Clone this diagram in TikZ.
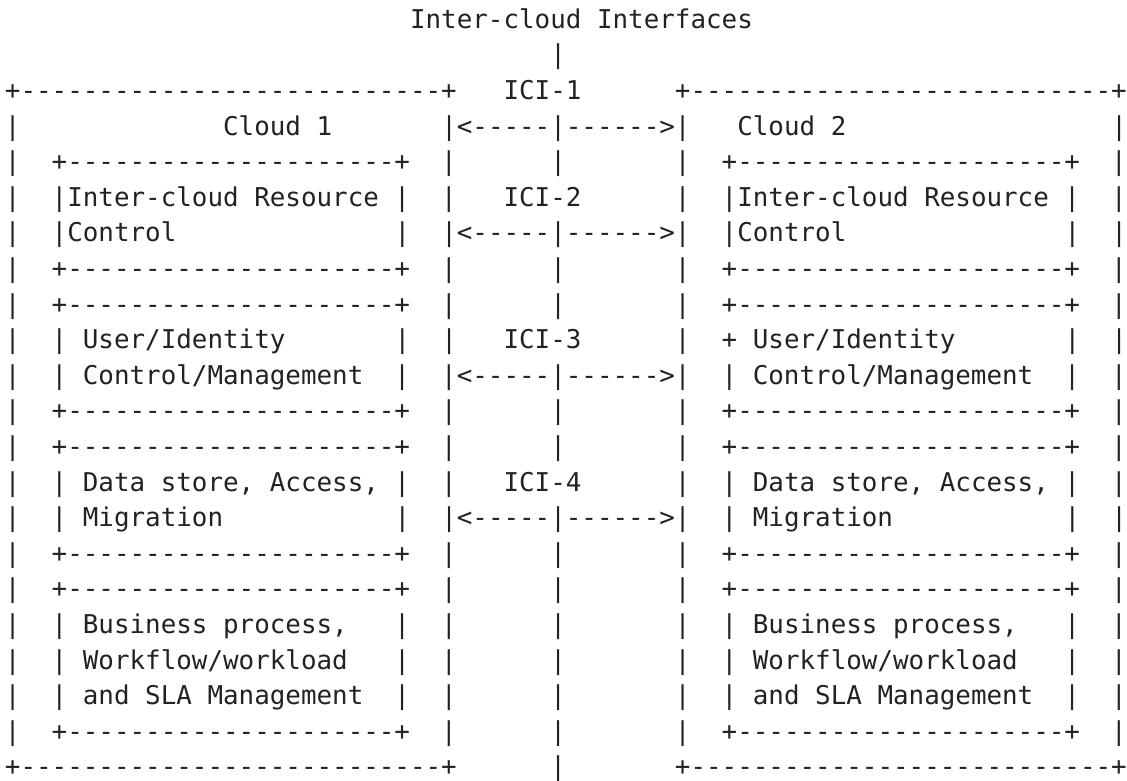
\documentclass[tikz,border=0pt]{standalone}
\usepackage{fontspec}
\setmonofont{DejaVu Sans Mono}
\usepackage{tikz}
\frenchspacing

\definecolor{ink}{HTML}{222222}
\newcommand\gap[1]{\hspace*{#1\fontdimen2\font}}
\newcommand\outerrule{+---------------------------+}
\newcommand\innerrule{+---------------------+}
\newcommand\ici{|<-----|------>|}
\newcommand\midbars{|\gap{6}|\gap{7}|}
\newcommand\boxrow{|\gap{2}\innerrule\gap{2}\midbars\gap{2}\innerrule\gap{2}|}

\tikzset{ascii/.style={font=\ttfamily\fontsize{25.88}{30}\selectfont,
  text=ink, anchor=base west, inner sep=0pt, outer sep=0pt}}

\begin{document}
\begin{tikzpicture}[x=15.58pt,y=-35.6pt]
\useasboundingbox (-5pt,28.3pt) rectangle (1122pt,-751.7pt);
\node [ascii] (row0) at (26,0) {Inter-cloud Interfaces};
\node [ascii] (row1) at (35,1) {|};
\node [ascii] (row2) at (0,2) {\outerrule\gap{3}ICI-1\gap{6}\outerrule};
\node [ascii] (row3) at (0,3) {|\gap{13}Cloud 1\gap{7}\ici\gap{3}Cloud 2\gap{17}|};
\node [ascii] (row4) at (0,4) {\boxrow};
\node [ascii] (row5) at (0,5) {|\gap{2}|Inter-cloud Resource |\gap{2}|\gap{3}ICI-2\gap{6}|\gap{2}|Inter-cloud Resource |\gap{2}|};
\node [ascii] (row6) at (0,6) {|\gap{2}|Control\gap{14}|\gap{2}\ici\gap{2}|Control\gap{14}|\gap{2}|};
\node [ascii] (row7) at (0,7) {\boxrow};
\node [ascii] (row8) at (0,8) {\boxrow};
\node [ascii] (row9) at (0,9) {|\gap{2}| User/Identity\gap{7}|\gap{2}|\gap{3}ICI-3\gap{6}|\gap{2}+ User/Identity\gap{7}|\gap{2}|};
\node [ascii] (row10) at (0,10) {|\gap{2}| Control/Management\gap{2}|\gap{2}\ici\gap{2}| Control/Management\gap{2}|\gap{2}|};
\node [ascii] (row11) at (0,11) {\boxrow};
\node [ascii] (row12) at (0,12) {\boxrow};
\node [ascii] (row13) at (0,13) {|\gap{2}| Data store, Access, |\gap{2}|\gap{3}ICI-4\gap{6}|\gap{2}| Data store, Access, |\gap{2}|};
\node [ascii] (row14) at (0,14) {|\gap{2}| Migration\gap{11}|\gap{2}\ici\gap{2}| Migration\gap{11}|\gap{2}|};
\node [ascii] (row15) at (0,15) {\boxrow};
\node [ascii] (row16) at (0,16) {\boxrow};
\node [ascii] (row17) at (0,17) {|\gap{2}| Business process,\gap{3}|\gap{2}\midbars\gap{2}| Business process,\gap{3}|\gap{2}|};
\node [ascii] (row18) at (0,18) {|\gap{2}| Workflow/workload\gap{3}|\gap{2}\midbars\gap{2}| Workflow/workload\gap{3}|\gap{2}|};
\node [ascii] (row19) at (0,19) {|\gap{2}| and SLA Management\gap{2}|\gap{2}\midbars\gap{2}| and SLA Management\gap{2}|\gap{2}|};
\node [ascii] (row20) at (0,20) {\boxrow};
\node [ascii] (row21) at (0,21) {\outerrule\gap{6}|\gap{7}\outerrule};
\end{tikzpicture}
\end{document}
